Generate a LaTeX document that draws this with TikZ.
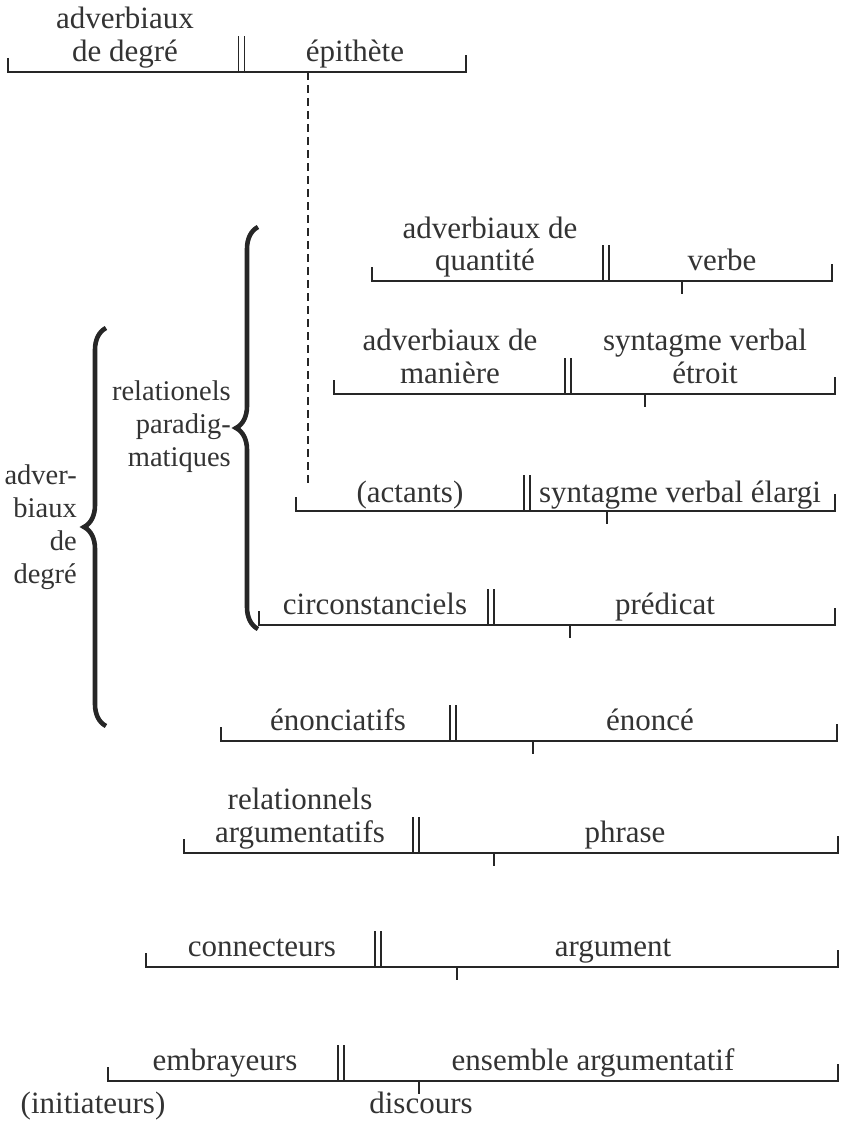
\documentclass[tikz,border=0pt]{standalone}
\usepackage{fontspec}
\setmainfont{Liberation Serif}
\usetikzlibrary{decorations.pathreplacing}
\newcommand\segrow[6]{% #1 name, #2 line y, #3 left x, #4 double bar x, #5 down tick x (or none), #6 right x
  \coordinate (#1-l) at (#3,#2);
  \coordinate (#1-r) at (#6,#2);
  \coordinate (#1-lt) at (#3,#2-14);
  \coordinate (#1-rt) at (#6,#2-17);
  \coordinate (#1-ba) at (#4-3,#2);
  \coordinate (#1-bat) at (#4-3,#2-36);
  \coordinate (#1-bb) at (#4+3,#2);
  \coordinate (#1-bbt) at (#4+3,#2-36);
  \draw[rule] (#1-lt) -- (#1-l) -- (#1-r) -- (#1-rt);
  \draw[bar] (#1-ba) -- (#1-bat);
  \draw[bar] (#1-bb) -- (#1-bbt);
  \ifx\relax#5\relax\else
    \coordinate (#1-d) at (#5,#2);
    \coordinate (#1-dt) at (#5,#2+13);
    \draw[rule] (#1-d) -- (#1-dt);
  \fi
}
\begin{document}
\begin{tikzpicture}[x=1pt,y=-1pt,
  rule/.style={line width=2pt, line cap=butt, line join=miter, color=black!85},
  bar/.style={line width=1.8pt, color=black!85},
  lbl/.style={inner sep=0pt, anchor=base, font=\fontsize{31}{33}\selectfont, text=black!80},
  side/.style={inner sep=0pt, align=right, anchor=east, font=\fontsize{28.5}{33}\selectfont, text=black!80},
  bracedeco/.style={decorate, decoration={brace, amplitude=22pt}, line width=4.6pt, color=black!85}]
\useasboundingbox (0,0) rectangle (846,1124);

% rows
\segrow{r1}{72}{8}{241.5}{}{466}
\segrow{r2}{281}{372}{606}{682}{832}
\segrow{r3}{394}{334}{568}{645}{835}
\segrow{r4}{511}{296}{527}{607}{835}
\segrow{r5}{625}{259}{491}{570}{835}
\segrow{r6}{741}{221}{453}{533}{837}
\segrow{r7}{853}{184}{416}{494}{838}
\segrow{r8}{967}{146}{378}{457}{838}
\segrow{r9}{1081}{108}{341}{419}{838}

% dashed connector from epithete to actants
\coordinate (dtop) at (308,72);
\coordinate (dbot) at (308,483);
\draw[line width=1.6pt, dash pattern=on 8pt off 5pt, color=black!85] (dtop) -- (dbot);

% labels
\node[lbl] (t1a) at (125,29) {adverbiaux};
\node[lbl] (t1b) at (125,62) {de degré};
\node[lbl] (t1c) at (355,62) {épithète};

\node[lbl] (t2a) at (490,238) {adverbiaux de};
\node[lbl] (t2b) at (485,270) {quantité};
\node[lbl] (t2c) at (722,270) {verbe};

\node[lbl] (t3a) at (450,350) {adverbiaux de};
\node[lbl] (t3b) at (450,383) {manière};
\node[lbl] (t3c) at (705,350) {syntagme verbal};
\node[lbl] (t3d) at (705,383) {étroit};

\node[lbl] (t4a) at (410,502) {(actants)};
\node[lbl] (t4b) at (680,502) {syntagme verbal élargi};

\node[lbl] (t5a) at (375,614) {circonstanciels};
\node[lbl] (t5b) at (665,614) {prédicat};

\node[lbl] (t6a) at (338,730) {énonciatifs};
\node[lbl] (t6b) at (650,730) {énoncé};

\node[lbl] (t7a) at (300,809) {relationnels};
\node[lbl] (t7b) at (300,842) {argumentatifs};
\node[lbl] (t7c) at (625,842) {phrase};

\node[lbl] (t8a) at (262,956) {connecteurs};
\node[lbl] (t8b) at (613,956) {argument};

\node[lbl] (t9a) at (225,1070) {embrayeurs};
\node[lbl] (t9b) at (593,1070) {ensemble argumentatif};
\node[lbl] (t9c) at (421,1113) {discours};
\node[lbl] (t9d) at (93,1113) {(initiateurs)};

% braces
\coordinate (b1top) at (258,227);
\coordinate (b1bot) at (258,629);
\draw[bracedeco] (b1bot) -- (b1top);
\node[side] (relp) at (231,427) {relationels\\paradig-\\matiques};

\coordinate (b2top) at (106,328);
\coordinate (b2bot) at (106,726);
\draw[bracedeco] (b2bot) -- (b2top);
\node[side] (advd) at (77,527) {adver-\\biaux\\de\\degré};
\end{tikzpicture}
\end{document}
